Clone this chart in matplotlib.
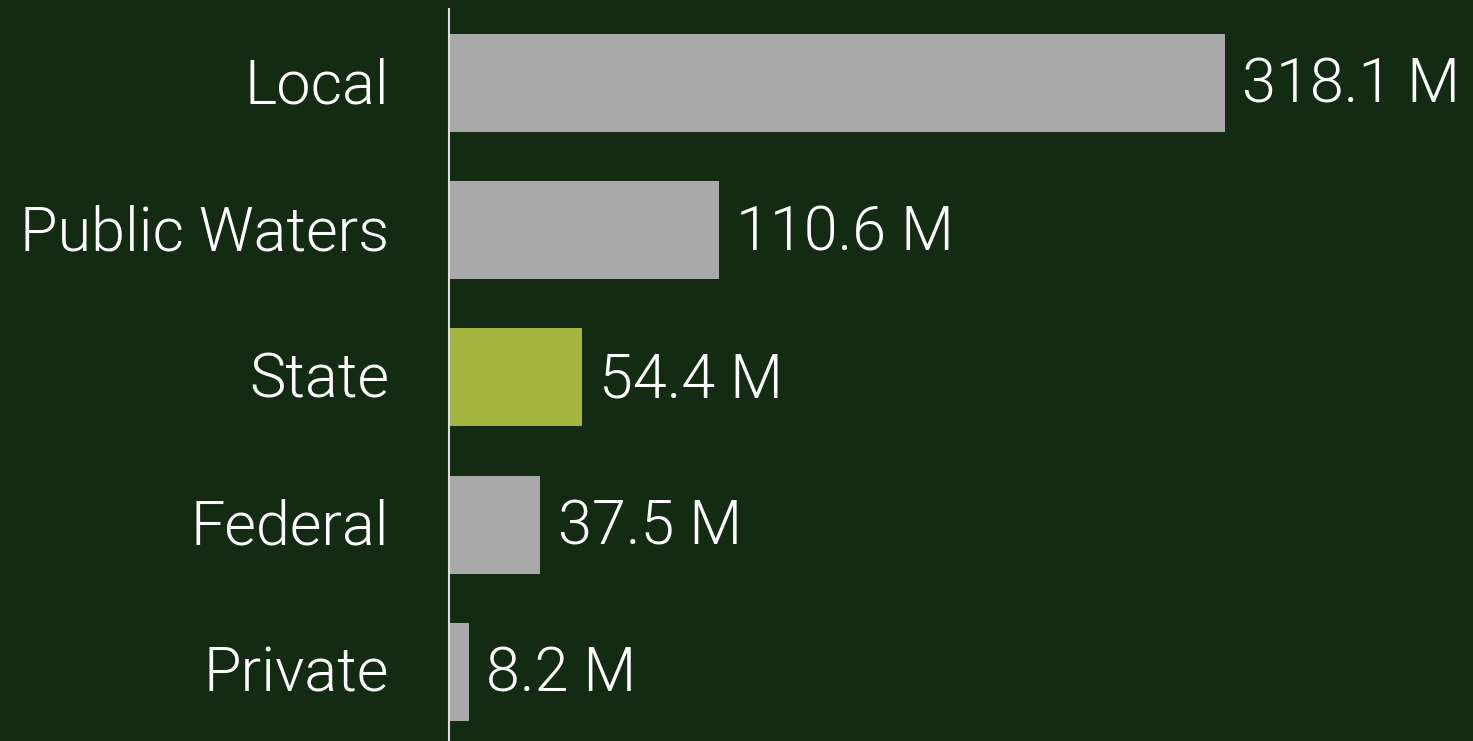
import matplotlib
matplotlib.use("Agg")
import matplotlib.pyplot as plt
from matplotlib.transforms import ScaledTranslation

categories = ["Local", "Public Waters", "State", "Federal", "Private"]
values = [318.1, 110.6, 54.4, 37.5, 8.2]
highlight = "State"

bg = "#132a13"
bar_gray = "#a9a9a9"
bar_green = "#a3b53f"

plt.rcParams["font.family"] = ["Roboto", "DejaVu Sans"]
plt.rcParams["font.weight"] = 300

fig = plt.figure(figsize=(14.73, 7.41), dpi=100, facecolor=bg)
ax = fig.add_axes([449 / 1473, 0, 1 - 449 / 1473, 732 / 741])
ax.set_facecolor(bg)

colors = [bar_green if c == highlight else bar_gray for c in categories]
ypos = list(range(len(categories)))
bars = ax.barh(ypos, values, height=0.665, color=colors)

# value labels just past the end of each bar
for bar, v in zip(bars, values):
    ax.text(v + 7, bar.get_y() + bar.get_height() / 2 + 0.02, f"{v:.1f} M",
            va="center", ha="left", color="white", fontsize=44,
            fontweight=300)

ax.set_yticks(ypos)
ax.set_yticklabels(categories, fontweight=300)
ax.tick_params(axis="y", length=0, pad=43, labelsize=44, labelcolor="white")
nudge = ScaledTranslation(0, 3 / 100, fig.dpi_scale_trans)
for lbl in ax.get_yticklabels():
    lbl.set_transform(lbl.get_transform() + nudge)
ax.set_xticks([])
ax.set_xlim(0, 1024 / 2.4395)
ax.set_ylim(4.47, -0.503)

for side in ["top", "right", "bottom"]:
    ax.spines[side].set_visible(False)
ax.spines["left"].set_color("#dddddd")
ax.spines["left"].set_linewidth(1.5)

fig.savefig("out.png", dpi=100, facecolor=bg)
